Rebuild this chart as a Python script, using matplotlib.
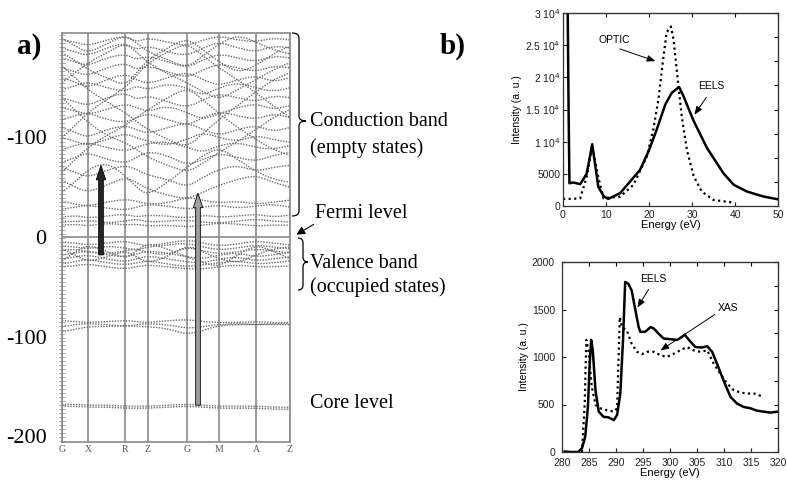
import numpy as np
import matplotlib
matplotlib.use("Agg")
import matplotlib.pyplot as plt
from matplotlib.path import Path
from matplotlib.patches import PathPatch, FancyArrowPatch

# ---------------- data ----------------
# band structure: k-path labels and positions along the path
k_labels = ["G", "X", "R", "Z", "G", "M", "A", "Z"]
k_pos = [0, 26, 63, 86, 125, 157, 194, 228]
ytick_vals_a = [100, 0, -100, -200]
ytick_labels_a = ["-100", "0", "-100", "-200"]

# band energies sampled at symmetry points and midpoints (15 samples)
conduction_bands = [
    [12, 13, 11, 14, 12, 13, 11, 12, 10, 12, 14, 13, 11, 12, 12],
    [16, 15, 17, 14, 16, 18, 15, 16, 17, 15, 14, 16, 18, 16, 15],
    [20, 22, 19, 21, 23, 20, 22, 21, 19, 22, 20, 21, 23, 20, 22],
    [28, 30, 32, 29, 27, 30, 33, 31, 28, 30, 32, 29, 31, 33, 30],
    [36, 33, 31, 35, 38, 36, 33, 34, 40, 37, 34, 36, 33, 35, 37],
    [57, 50, 45, 52, 60, 55, 48, 42, 38, 45, 52, 58, 62, 55, 50],
    [70, 65, 60, 67, 72, 68, 62, 58, 50, 60, 68, 72, 66, 70, 72],
    [75, 80, 85, 78, 74, 80, 86, 82, 72, 78, 84, 80, 76, 82, 85],
    [88, 92, 95, 90, 86, 90, 94, 96, 90, 85, 92, 95, 90, 88, 92],
    [100, 96, 92, 98, 104, 100, 96, 92, 98, 105, 100, 96, 102, 98, 95],
    [110, 105, 100, 108, 112, 108, 104, 110, 115, 108, 102, 108, 112, 106, 110],
    [118, 122, 125, 118, 115, 120, 124, 118, 112, 120, 126, 122, 118, 124, 120],
    [130, 127, 123, 128, 134, 130, 126, 132, 125, 118, 124, 130, 134, 128, 132],
    [140, 136, 132, 140, 145, 138, 142, 136, 130, 138, 144, 140, 136, 142, 140],
    [148, 152, 156, 150, 146, 152, 148, 154, 150, 142, 150, 155, 150, 146, 150],
    [160, 156, 150, 158, 164, 158, 154, 160, 166, 158, 152, 158, 162, 156, 160],
    [170, 166, 162, 170, 175, 168, 172, 166, 160, 168, 174, 170, 166, 172, 170],
    [180, 176, 172, 180, 184, 178, 182, 176, 170, 178, 184, 180, 176, 182, 180],
    [190, 186, 182, 190, 195, 188, 192, 186, 182, 190, 196, 190, 186, 192, 190],
    [198, 196, 192, 198, 202, 196, 200, 196, 192, 198, 202, 198, 196, 200, 198],
    [45, 55, 68, 75, 62, 50, 42, 55, 70, 82, 90, 78, 66, 58, 55],
    [65, 78, 90, 102, 112, 120, 128, 140, 150, 138, 124, 110, 98, 88, 82],
    [140, 128, 115, 102, 95, 88, 80, 72, 65, 74, 85, 96, 108, 120, 128],
    [172, 160, 148, 136, 125, 116, 108, 98, 90, 104, 118, 132, 146, 158, 165],
    [100, 112, 125, 138, 150, 162, 175, 186, 195, 182, 170, 158, 145, 132, 120],
    [185, 178, 168, 160, 152, 165, 178, 190, 200, 188, 176, 165, 172, 184, 192],
    [200, 192, 185, 194, 203, 195, 186, 178, 170, 182, 194, 203, 196, 188, 184],
    [155, 165, 175, 185, 195, 186, 175, 164, 155, 146, 138, 148, 158, 168, 175],
]
valence_bands = [
    [-5, -6, -8, -6, -4, -7, -9, -6, -3, -6, -9, -7, -4, -6, -8],
    [-9, -10, -12, -9, -11, -13, -10, -8, -6, -10, -13, -11, -8, -10, -12],
    [-13, -12, -15, -17, -14, -12, -16, -18, -10, -14, -17, -15, -12, -14, -16],
    [-18, -16, -14, -18, -20, -17, -14, -16, -20, -22, -18, -16, -20, -18, -15],
    [-22, -20, -18, -22, -25, -22, -19, -22, -25, -26, -22, -20, -24, -22, -20],
    [-27, -25, -22, -26, -28, -26, -24, -27, -30, -28, -26, -24, -27, -26, -24],
    [-30, -29, -27, -30, -32, -30, -28, -30, -32, -32, -30, -28, -30, -30, -29],
    [-12, -18, -25, -20, -14, -20, -26, -20, -8, -15, -22, -26, -18, -12, -10],
    [-24, -15, -8, -14, -22, -14, -6, -12, -20, -26, -30, -18, -8, -14, -22],
]
semicore_bands = [
    [-84, -85, -86, -85, -84, -85, -86, -84, -83, -85, -86, -86, -85, -86, -86],
    [-90, -88, -87, -88, -90, -88, -87, -88, -92, -90, -88, -87, -88, -87, -87],
    [-95, -93, -90, -90, -89, -90, -90, -92, -98, -94, -89, -88, -88, -88, -88],
]
core_bands = [
    [-168, -168, -169, -169, -170, -170, -170, -169, -168, -169, -170, -170, -170, -171, -171],
    [-170, -170, -171, -171, -172, -172, -172, -171, -170, -171, -172, -172, -172, -173, -173],
]
# transitions drawn as arrows (k, E_start, E_end)
arrow_black = (39, -18, 72)
arrow_gray = (136, -169, 44)

# low-loss spectrum
ll_eels_x = [1.0, 1.1, 1.3, 1.5, 2.4, 4.0, 5.5, 6.8, 8.2, 9.5, 10.5, 13.3, 15.6, 17.9, 19.9,
             21.8, 23.8, 25.3, 27.0, 28.0, 30.4, 33.5, 37.3, 39.7, 42.8, 46.7, 50.0]
ll_eels_y = [31000, 30000, 15000, 3540, 3650, 3400, 5000, 9600, 3000, 1500, 1100, 2000, 3800,
             5600, 8500, 11900, 15800, 17600, 18500, 17100, 13200, 9000, 5100, 3300, 2240, 1460, 1040]
ll_opt_x = [0.0, 2.0, 4.0, 5.5, 6.8, 8.2, 9.4, 13.3, 16.4, 19.5, 21.0, 22.2, 23.2, 24.1, 25.1,
            25.7, 26.6, 27.6, 28.8, 30.4, 32.3, 35.0, 39.7]
ll_opt_y = [1100, 1100, 1200, 4500, 9300, 4500, 1200, 1460, 3300, 7700, 11900, 16600, 22300,
            27000, 27900, 25900, 20200, 14000, 8750, 4600, 2240, 940, 520]
ll_yticks = [0, 5000, 10000, 15000, 20000, 25000, 30000]
ll_ylabels = ["0", "5000", "1 10$^{4}$", "1.5 10$^{4}$", "2 10$^{4}$", "2.5 10$^{4}$", "3 10$^{4}$"]
ll_xticks = [0, 10, 20, 30, 40, 50]

# carbon K edge
ck_eels_x = [280.5, 281.5, 283.0, 283.7, 284.3, 284.8, 285.1, 285.4, 285.7, 286.2, 286.8, 287.7,
             288.6, 289.6, 290.2, 290.8, 291.3, 291.7, 292.3, 292.9, 293.6, 294.2, 294.5, 295.4,
             296.4, 297.0, 297.9, 298.8, 300.1, 301.3, 302.2, 302.7, 303.5, 304.7, 305.9, 306.9,
             307.8, 308.7, 309.9, 311.2, 312.4, 313.6, 314.9, 316.1, 317.3, 318.6, 320.0]
ck_eels_y = [5, 0, 0, 40, 160, 475, 900, 1180, 1070, 650, 425, 370, 365, 335, 390, 615, 1180,
             1790, 1770, 1700, 1490, 1315, 1265, 1265, 1315, 1300, 1245, 1195, 1187, 1180, 1210,
             1236, 1180, 1105, 1100, 1113, 1055, 930, 755, 580, 510, 475, 460, 435, 425, 415, 425]
ck_xas_x = [283.7, 284.2, 284.5, 284.9, 285.5, 286.2, 287.1, 288.3, 289.6, 290.2, 290.7, 291.1,
            292.0, 292.9, 293.9, 294.8, 295.7, 297.0, 298.2, 299.4, 300.7, 301.9, 303.1, 304.4,
            305.6, 306.9, 308.1, 309.3, 310.6, 311.8, 313.1, 314.3, 315.6, 317.3]
ck_xas_y = [0, 500, 1180, 1070, 690, 495, 460, 440, 425, 460, 1420, 1315, 1280, 1140, 1055, 1030,
            1055, 1055, 1020, 1000, 1035, 1070, 1105, 1070, 1055, 1070, 930, 825, 720, 650, 625,
            615, 615, 580]
ck_yticks = [0, 500, 1000, 1500, 2000]
ck_xticks = [280, 285, 290, 295, 300, 305, 310, 315, 320]

# ---------------- figure ----------------
W, H = 787, 483
fig = plt.figure(figsize=(W / 100, H / 100), dpi=100)
SERIF = "Liberation Serif"
SANS = "Liberation Sans"


def fx(px):
    return px / W


def fy(py):
    return 1 - py / H


def box(x0, y0, x1, y1):
    return [fx(x0), fy(y1), fx(x1) - fx(x0), fy(y0) - fy(y1)]


# ---- panel a: band structure ----
axa = fig.add_axes(box(62, 33, 290, 442))
axa.set_xlim(k_pos[0], k_pos[-1])
axa.set_ylim(-206, 205)
band_color = "#6a6a6a"

# sample positions: symmetry points and midpoints
ks = []
for i in range(len(k_pos) - 1):
    ks.append(k_pos[i])
    ks.append(0.5 * (k_pos[i] + k_pos[i + 1]))
ks.append(k_pos[-1])


def smooth_band(ax, xs, ys, **kw):
    pts = list(zip(xs, ys))
    verts = [pts[0]]
    codes = [Path.MOVETO]
    for i in range(1, len(pts) - 1):
        mid = ((pts[i][0] + pts[i + 1][0]) / 2, (pts[i][1] + pts[i + 1][1]) / 2)
        verts += [pts[i], mid]
        codes += [Path.CURVE3, Path.CURVE3]
    verts.append(pts[-1])
    codes.append(Path.LINETO)
    ax.add_patch(PathPatch(Path(verts, codes), fill=False, **kw))


for group in (conduction_bands, valence_bands, semicore_bands, core_bands):
    for b in group:
        smooth_band(axa, ks, b, edgecolor=band_color, lw=1.0, linestyle=(0, (1, 1)), zorder=2)

for k in k_pos:
    axa.axvline(k, color="#8a8a8a", lw=1.2, zorder=1)
axa.axhline(0, color="#8a8a8a", lw=1.2, zorder=1)
for s in axa.spines.values():
    s.set_color("#8a8a8a")
    s.set_linewidth(1.2)

axa.set_yticks(ytick_vals_a)
axa.set_yticklabels(ytick_labels_a, fontfamily=SERIF, fontsize=16)
axa.set_yticks(np.arange(-205, 206, 4), minor=True)
axa.tick_params(axis="y", which="major", length=0, pad=11)
axa.tick_params(axis="y", which="minor", length=5, width=0.6, color="#9a9a9a", direction="inout")
axa.set_xticks(k_pos)
axa.set_xticklabels(k_labels, fontfamily=SERIF, fontsize=7, color="#555555")
axa.tick_params(axis="x", length=0, pad=2)

for (k, e0, e1), fc in ((arrow_black, "#262626"), (arrow_gray, "#a0a0a0")):
    axa.add_patch(FancyArrowPatch((k, e0), (k, e1),
                                  arrowstyle="simple,head_length=1.3,head_width=0.85,tail_width=0.42",
                                  mutation_scale=8, fc=fc, ec="black", lw=0.6, zorder=5,
                                  shrinkA=0, shrinkB=0))


# braces
def brace(x, y0, y1, ytip, w):
    xm = x + w * 0.5
    r = 5
    verts = [(x, y0), (xm, y0), (xm, y0 + r), (xm, ytip - r), (xm, ytip), (x + w, ytip),
             (xm, ytip), (xm, ytip + r), (xm, y1 - r), (xm, y1), (x, y1)]
    codes = [Path.MOVETO, Path.CURVE3, Path.CURVE3, Path.LINETO, Path.CURVE3, Path.CURVE3,
             Path.CURVE3, Path.CURVE3, Path.LINETO, Path.CURVE3, Path.CURVE3]
    v = [(fx(a), fy(b)) for a, b in verts]
    fig.add_artist(PathPatch(Path(v, codes), fill=False, lw=0.9, ec="black",
                             transform=fig.transFigure))


brace(292, 33, 216, 121, 14)
brace(298, 238, 290, 262, 10)

FS = 14.5
fig.text(fx(310), fy(122), "Conduction band", fontfamily=SERIF, fontsize=FS, va="center")
fig.text(fx(310), fy(148), "(empty states)", fontfamily=SERIF, fontsize=FS, va="center")
fig.text(fx(315), fy(213), "Fermi level", fontfamily=SERIF, fontsize=FS, va="center")
fig.text(fx(310), fy(263), "Valence band", fontfamily=SERIF, fontsize=FS, va="center")
fig.text(fx(310), fy(287), "(occupied states)", fontfamily=SERIF, fontsize=FS, va="center")
fig.text(fx(310), fy(404), "Core level", fontfamily=SERIF, fontsize=FS, va="center")
fig.add_artist(FancyArrowPatch((fx(316), fy(223)), (fx(294), fy(236)), transform=fig.transFigure,
                               arrowstyle="-|>,head_length=5,head_width=2.5", lw=0.8, color="black"))
fig.text(fx(17), fy(46), "a)", fontfamily=SERIF, fontsize=21, fontweight="bold", va="center")
fig.text(fx(440), fy(46), "b)", fontfamily=SERIF, fontsize=21, fontweight="bold", va="center")


# ---- panel b: spectra ----
def style_spec(ax, xticks, yticks, ylabels, top_ticks, right_ticks):
    ax.set_xticks(xticks)
    ax.set_xticklabels([str(t) for t in xticks], fontfamily=SANS, fontsize=7.5)
    ax.set_yticks(yticks)
    ax.set_yticklabels(ylabels, fontfamily=SANS, fontsize=7.5)
    ax.tick_params(direction="in", length=3, width=0.8, pad=2, colors="#222222")
    ax.tick_params(axis="x", pad=3)
    for s in ax.spines.values():
        s.set_linewidth(0.9)
        s.set_color("#333333")
    sx = ax.secondary_xaxis("top")
    sx.set_xticks(top_ticks)
    sx.tick_params(direction="in", length=3, width=0.8, labeltop=False)
    sy = ax.secondary_yaxis("right")
    sy.set_yticks(right_ticks)
    sy.tick_params(direction="in", length=3, width=0.8, labelright=False)
    ax.set_ylabel("Intensity (a. u.)", fontfamily=SANS, fontsize=7.5, labelpad=2)
    ax.set_xlabel("Energy (eV)", fontfamily=SANS, fontsize=8, labelpad=0)


ax1 = fig.add_axes(box(563, 13, 778, 206))
ax1.plot(ll_eels_x, ll_eels_y, color="black", lw=1.8, solid_joinstyle="round")
ax1.plot(ll_opt_x, ll_opt_y, color="black", lw=1.6, linestyle=(0, (1, 1.5)))
ax1.set_xlim(0, 50)
ax1.set_ylim(0, 30000)
style_spec(ax1, ll_xticks, ll_yticks, ll_ylabels, ll_xticks, np.linspace(0, 30000, 9))
ax1.text(11.9, 25800, "OPTIC", fontfamily=SANS, fontsize=7.5, ha="center", va="center")
ax1.annotate("", xy=(22.1, 22380), xytext=(12.6, 24560),
             arrowprops=dict(arrowstyle="-|>,head_length=0.5,head_width=0.2", lw=0.7, color="black"))
ax1.text(34.4, 18650, "EELS", fontfamily=SANS, fontsize=7.5, ha="center", va="center")
ax1.annotate("", xy=(30.2, 13830), xytext=(33.7, 17250),
             arrowprops=dict(arrowstyle="-|>,head_length=0.5,head_width=0.2", lw=0.7, color="black"))

ax2 = fig.add_axes(box(562, 262, 778, 452))
ax2.plot(ck_eels_x, ck_eels_y, color="black", lw=1.8, solid_joinstyle="round")
ax2.plot(ck_xas_x, ck_xas_y, color="black", lw=1.6, linestyle=(0, (1, 1.5)))
ax2.set_xlim(280, 320)
ax2.set_ylim(0, 2000)
style_spec(ax2, ck_xticks, ck_yticks, [str(t) for t in ck_yticks], ck_xticks,
           np.arange(0, 2001, 250))
ax2.tick_params(axis="y", pad=5)
ax2.tick_params(axis="x", pad=4)
ax2.text(296.9, 1821, "EELS", fontfamily=SANS, fontsize=7.5, ha="center", va="center")
ax2.annotate("", xy=(293.7, 1495), xytext=(296.3, 1737),
             arrowprops=dict(arrowstyle="-|>,head_length=0.5,head_width=0.2", lw=0.7, color="black"))
ax2.text(310.7, 1516, "XAS", fontfamily=SANS, fontsize=7.5, ha="center", va="center")
ax2.annotate("", xy=(297.8, 1053), xytext=(308.7, 1463),
             arrowprops=dict(arrowstyle="-|>,head_length=0.5,head_width=0.2", lw=0.7, color="black"))

fig.savefig("out.png", dpi=100)
